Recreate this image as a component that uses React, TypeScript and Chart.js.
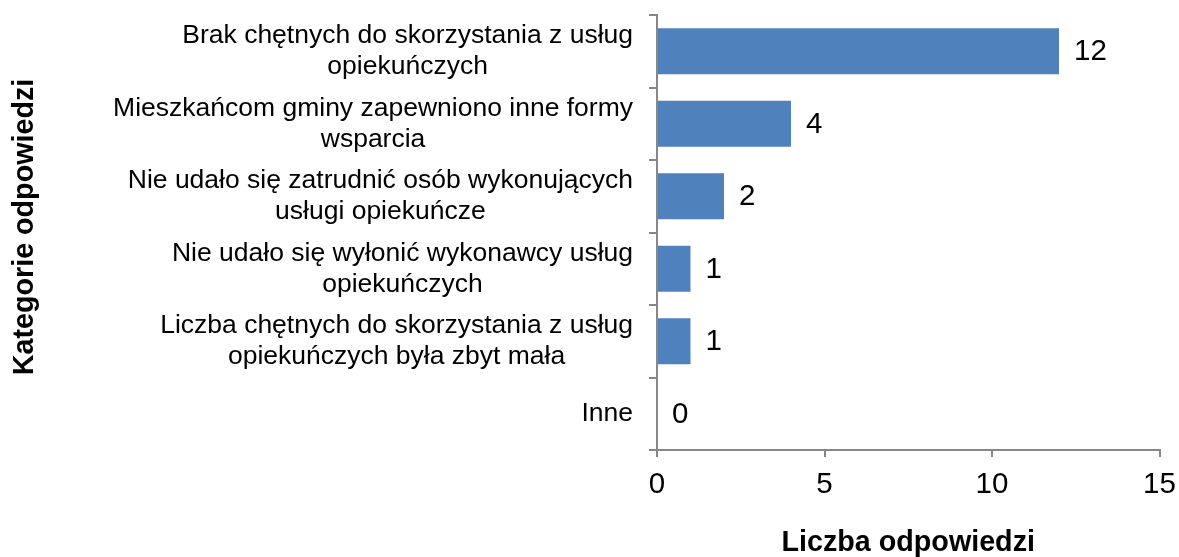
import React, { useEffect, useRef } from "react";
import { Chart, registerables } from "chart.js";

Chart.register(...registerables);

const categories: string[][] = [
  ["Brak chętnych do skorzystania z usług", "opiekuńczych"],
  ["Mieszkańcom gminy zapewniono inne formy", "wsparcia"],
  ["Nie udało się zatrudnić osób wykonujących", "usługi opiekuńcze"],
  ["Nie udało się wyłonić wykonawcy usług", "opiekuńczych"],
  ["Liczba chętnych do skorzystania z usług", "opiekuńczych była zbyt mała"],
  ["Inne"],
];
const values: number[] = [12, 4, 2, 1, 1, 0];
const xTicks: number[] = [0, 5, 10, 15];
const xTitle = "Liczba odpowiedzi";
const yTitle = "Kategorie odpowiedzi";

const FONT = "'Liberation Sans', Arial, sans-serif";
const LABEL_SIZE = 26.5;
const NUM_SIZE = 29.5;
const TITLE_SIZE = 28.7;
const AXIS_COLOR = "#878787";
const BAR_COLOR = "#4F81BD";

const categoryLabelPlugin = {
  id: "categoryLabels",
  afterDraw(chart: any) {
    const yScale = chart.scales.y;
    const ctx = chart.ctx;
    ctx.save();
    ctx.font = `${LABEL_SIZE}px ${FONT}`;
    ctx.fillStyle = "#000";
    ctx.textBaseline = "middle";
    ctx.textAlign = "center";
    const lineH = 31;
    const rightEdge = yScale.right - 24;
    categories.forEach((lines, i) => {
      const cy = yScale.getPixelForValue(i);
      const w = Math.max(...lines.map((l) => ctx.measureText(l).width));
      const cx = rightEdge - w / 2;
      const startY = cy - ((lines.length - 1) * lineH) / 2;
      lines.forEach((l, j) => ctx.fillText(l, cx, startY + j * lineH));
    });
    // y-axis title
    ctx.font = `bold ${TITLE_SIZE}px ${FONT}`;
    ctx.translate(25, 227);
    ctx.rotate(-Math.PI / 2);
    ctx.textAlign = "center";
    ctx.textBaseline = "middle";
    ctx.fillText(yTitle, 0, 0);
    ctx.restore();
  },
};

const valueLabelPlugin = {
  id: "valueLabels",
  afterDatasetsDraw(chart: any) {
    const ctx = chart.ctx;
    const meta = chart.getDatasetMeta(0);
    ctx.save();
    ctx.font = `${NUM_SIZE}px ${FONT}`;
    ctx.fillStyle = "#000";
    ctx.textBaseline = "middle";
    ctx.textAlign = "left";
    meta.data.forEach((el: any, i: number) => {
      ctx.fillText(String(values[i]), el.x + 15, el.y + 1);
    });
    ctx.restore();
  },
};

export default function App() {
  const ref = useRef<HTMLCanvasElement>(null);
  useEffect(() => {
    if (!ref.current) return;
    const chart = new Chart(ref.current, {
      type: "bar",
      data: {
        labels: categories.map((c) => c.join(" ")),
        datasets: [
          {
            data: values,
            backgroundColor: BAR_COLOR,
            borderWidth: 0,
            categoryPercentage: 1,
            barPercentage: 0.634,
          },
        ],
      },
      plugins: [categoryLabelPlugin, valueLabelPlugin],
      options: {
        indexAxis: "y",
        animation: false,
        responsive: true,
        maintainAspectRatio: false,
        layout: { padding: { top: 15, right: 19.5, bottom: 0, left: 0 } },
        plugins: {
          legend: { display: false },
          tooltip: { enabled: false },
        },
        scales: {
          x: {
            min: 0,
            max: 15,
            afterBuildTicks: (scale: any) => {
              scale.ticks = xTicks.map((v) => ({ value: v }));
            },
            ticks: {
              color: "#000",
              font: { family: FONT, size: NUM_SIZE },
              padding: 10,
              maxRotation: 0,
            },
            grid: {
              drawOnChartArea: false,
              drawTicks: true,
              tickLength: 7,
              color: AXIS_COLOR,
              lineWidth: 2,
            },
            border: { display: true, color: AXIS_COLOR, width: 2 },
            title: {
              display: true,
              text: xTitle,
              color: "#000",
              font: { family: FONT, size: TITLE_SIZE, weight: "bold", lineHeight: 1 },
              padding: { top: 0, bottom: 0 },
            },
            afterFit: (scale: any) => {
              scale.height = 107;
              scale.paddingLeft = 0;
              scale.paddingRight = 0;
            },
          },
          y: {
            ticks: { color: "rgba(0,0,0,0)", font: { family: FONT, size: LABEL_SIZE } },
            grid: {
              offset: true,
              drawOnChartArea: false,
              drawTicks: true,
              tickLength: 8,
              color: AXIS_COLOR,
              lineWidth: 2,
            },
            border: { display: true, color: AXIS_COLOR, width: 2 },
            title: { display: false },
            afterFit: (scale: any) => {
              scale.width = 657;
              scale.paddingTop = 0;
              scale.paddingBottom = 0;
            },
          },
        },
      } as any,
    });
    return () => chart.destroy();
  }, []);
  return (
    <div style={{ position: "fixed", left: 0, top: 0, width: 1179, height: 557 }}>
      <canvas ref={ref} />
    </div>
  );
}
